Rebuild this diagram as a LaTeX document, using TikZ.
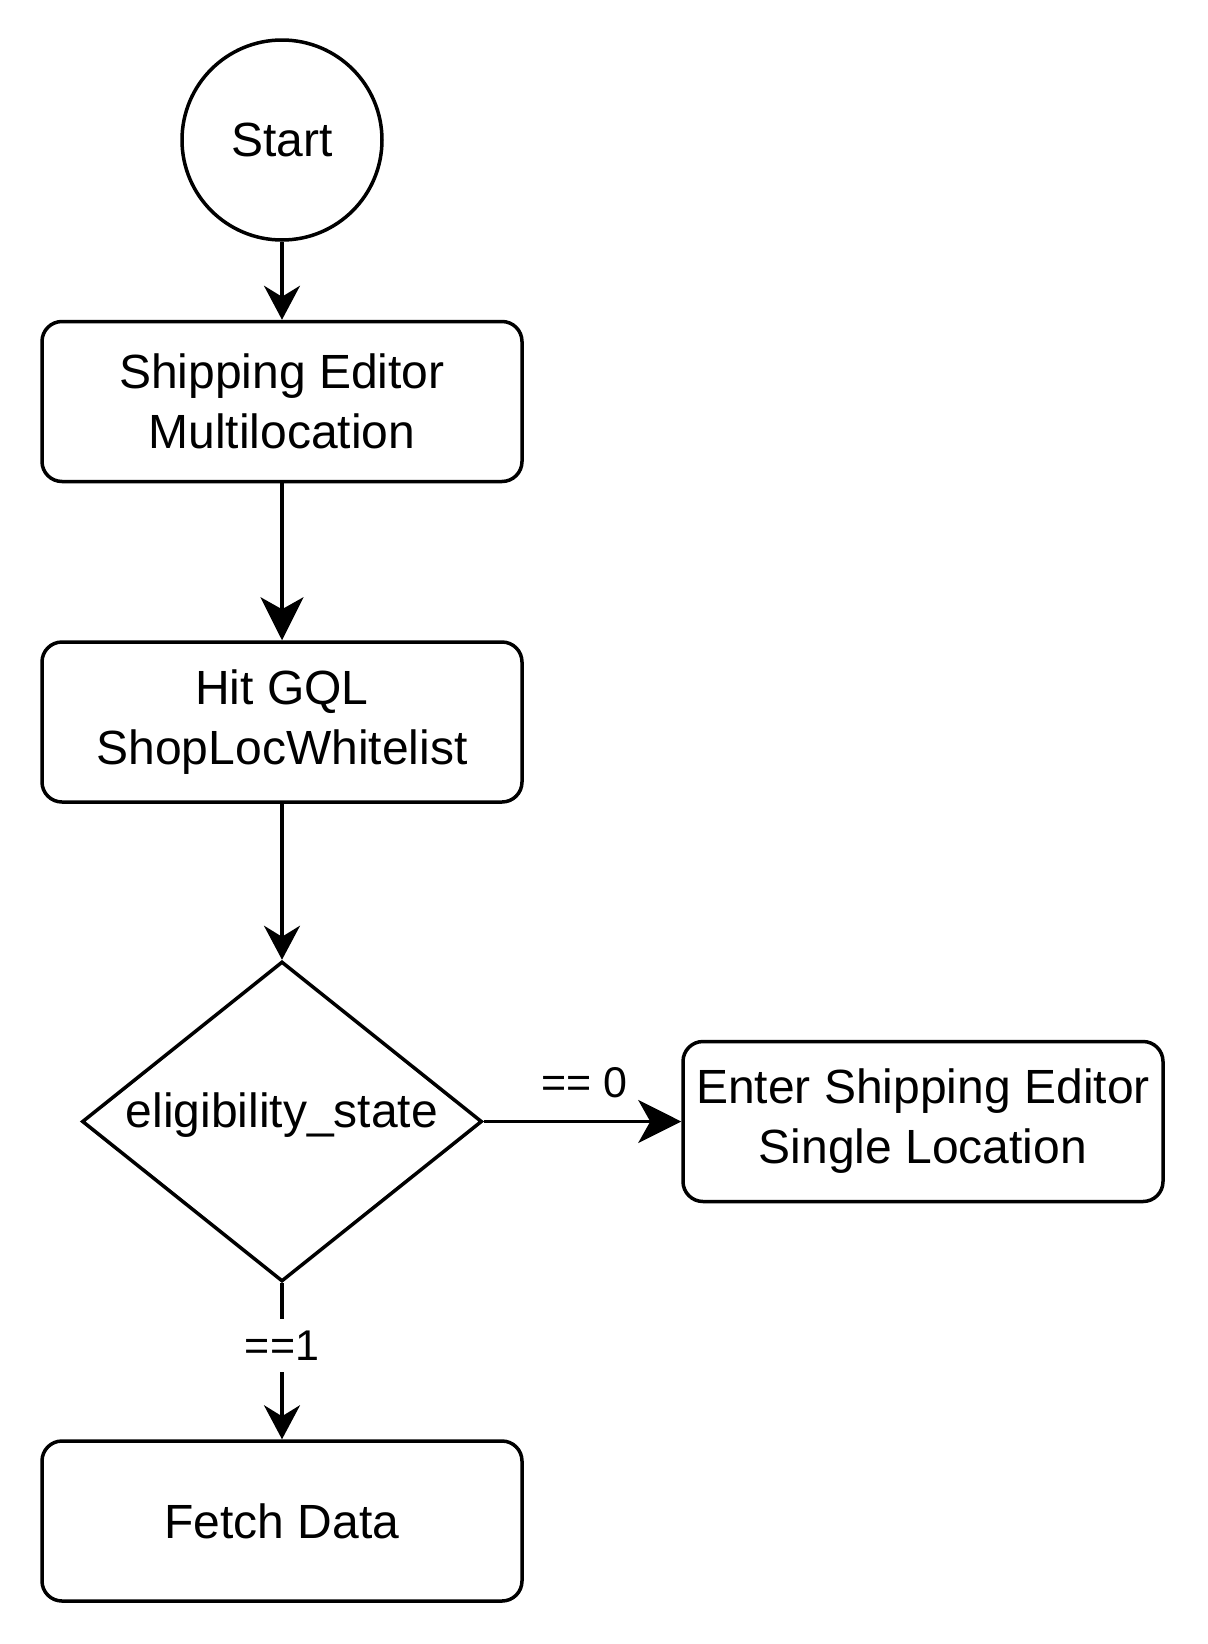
\documentclass[tikz,border=0pt]{standalone}
\usepackage{fontspec}
\setmainfont{Liberation Sans}
\usetikzlibrary{arrows.meta,shapes.geometric}
\begin{document}
\begin{tikzpicture}[x=0.5pt,y=-0.5pt,
  every node/.style={font=\fontsize{24}{30}\selectfont, text=black},
  procbox/.style={draw=black, line width=1.75pt, rounded corners=10pt, minimum width=240pt, minimum height=80pt, align=center, inner sep=0pt},
  startcirc/.style={draw=black, line width=1.75pt, circle, minimum size=100pt, inner sep=0pt},
  decision/.style={draw=black, line width=1.75pt, diamond, minimum width=200pt, minimum height=160pt, inner sep=0pt},
  lbl/.style={font=\fontsize{21.5}{25}\selectfont, inner sep=0pt},
  smallarrow/.style={draw=black, line width=1.75pt, -{Stealth[length=17pt, width=18pt, inset=5.5pt]}},
  bigarrow/.style={draw=black, line width=1.75pt, -{Stealth[length=21.5pt, width=21.5pt, inset=6pt]}}
]
\useasboundingbox[fill=white] (0,0) rectangle (1208,1644);

\node[startcirc] (start) at (282,140) {Start};
\node[procbox] (ship) at (282,401.5) {Shipping Editor\\Multilocation};
\node[procbox] (gql) at (282,722) {Hit GQL\\ShopLocWhitelist};
\node[decision] (dia) at (282,1121.5) {};
\node (diatext) at (282,1115) {eligibility\_state};
\node[procbox] (enter) at (923,1121.5) {Enter Shipping Editor\\Single Location};
\node[procbox] (fetch) at (282,1521) {Fetch Data};

\draw[smallarrow] (start) -- (ship);
\draw[bigarrow] (ship) -- (gql);
\draw[smallarrow] (gql) -- (dia);
\draw[bigarrow] (dia.east) -- node[lbl, pos=0.51, yshift=19.5pt] {== 0} (enter.west);
\draw[smallarrow] (dia.south) -- node[lbl, pos=0.4, fill=white, inner xsep=4pt, inner ysep=6pt] {==1} (fetch.north);
\end{tikzpicture}
\end{document}
